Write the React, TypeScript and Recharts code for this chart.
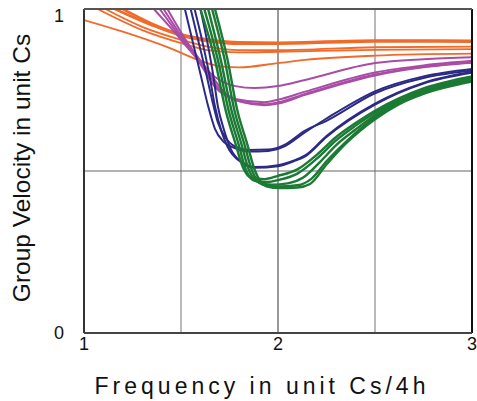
import React from 'react';
import { LineChart, Line, XAxis, YAxis, ReferenceLine } from 'recharts';

// ---- tick labels ----
const xTicks = [1, 2, 3];
const yTicks = [0, 1];
const xTitle = 'Frequency in unit Cs/4h';
const yTitle = 'Group Velocity in unit Cs';

// ---- series: [frequency, group velocity] ----
const orange1 = [[1.2, 1.0], [1.35, 0.955], [1.5, 0.922], [1.65, 0.905], [1.8, 0.897], [2, 0.896], [2.5, 0.903], [3, 0.902]];
const orange2 = [[1.16, 1.0], [1.35, 0.95], [1.5, 0.918], [1.65, 0.9], [1.8, 0.893], [2, 0.893], [2.5, 0.9], [3, 0.899]];
const orange3 = [[1.11, 1.0], [1.3, 0.945], [1.5, 0.905], [1.65, 0.882], [1.8, 0.873], [2, 0.873], [2.5, 0.882], [3, 0.884]];
const orange4 = [[1.07, 1.0], [1.3, 0.935], [1.5, 0.895], [1.65, 0.872], [1.8, 0.866], [2, 0.868], [2.5, 0.874], [3, 0.876]];
const orange5 = [[1, 0.966], [1.2, 0.93], [1.44, 0.88], [1.6, 0.84], [1.7, 0.823], [1.8, 0.82], [2, 0.833], [2.14, 0.843], [2.5, 0.856], [3, 0.862]];

const magenta1 = [[1.36, 1.0], [1.45, 0.94], [1.55, 0.87], [1.675, 0.79], [1.78, 0.762], [1.88, 0.756], [2, 0.762], [2.14, 0.781], [2.5, 0.833], [2.75, 0.845], [3, 0.851]];
const magenta2 = [[1.39, 1.0], [1.5, 0.91], [1.6, 0.83], [1.675, 0.76], [1.78, 0.722], [1.93, 0.712], [2, 0.72], [2.14, 0.745], [2.5, 0.804], [2.75, 0.826], [3, 0.84]];
const magenta3 = [[1.41, 1.0], [1.52, 0.9], [1.62, 0.82], [1.7, 0.75], [1.8, 0.715], [1.93, 0.706], [2, 0.712], [2.14, 0.738], [2.5, 0.798], [2.75, 0.822], [3, 0.836]];
const magenta4 = [[1.43, 1.0], [1.54, 0.89], [1.64, 0.81], [1.72, 0.745], [1.82, 0.712], [1.93, 0.703], [2, 0.708], [2.14, 0.735], [2.5, 0.795], [2.75, 0.82], [3, 0.834]];

const blue1 = [[1.52, 1.0], [1.56, 0.9], [1.6, 0.8], [1.64, 0.7], [1.675, 0.63], [1.72, 0.59], [1.78, 0.57], [1.845, 0.56], [1.95, 0.562], [2.03, 0.575], [2.14, 0.62], [2.25, 0.662], [2.5, 0.746], [2.75, 0.792], [3, 0.815]];
const blue2 = [[1.55, 1.0], [1.59, 0.9], [1.63, 0.8], [1.66, 0.72], [1.69, 0.65], [1.727, 0.605], [1.78, 0.575], [1.845, 0.565], [1.95, 0.566], [2.03, 0.58], [2.14, 0.625], [2.25, 0.655], [2.5, 0.74], [2.75, 0.787], [3, 0.81]];
const blue3 = [[1.57, 1.0], [1.61, 0.9], [1.645, 0.8], [1.675, 0.7], [1.71, 0.62], [1.74, 0.575], [1.81, 0.527], [1.88, 0.51], [2.0, 0.515], [2.08, 0.53], [2.14, 0.545], [2.25, 0.605], [2.5, 0.705], [2.75, 0.77], [3, 0.803]];
const blue4 = [[1.6, 1.0], [1.635, 0.9], [1.665, 0.8], [1.69, 0.7], [1.72, 0.63], [1.755, 0.57], [1.82, 0.525], [1.88, 0.512], [2.0, 0.518], [2.08, 0.532], [2.14, 0.548], [2.25, 0.608], [2.5, 0.708], [2.75, 0.772], [3, 0.806]];

const green1 = [[1.6, 1.0], [1.675, 0.843], [1.73, 0.688], [1.78, 0.586], [1.82, 0.51], [1.86, 0.48], [1.93, 0.475], [2.0, 0.485], [2.1, 0.505], [2.2, 0.55], [2.3, 0.605], [2.4, 0.648], [2.5, 0.686], [2.75, 0.755], [3, 0.792]];
const green2 = [[1.62, 1.0], [1.69, 0.843], [1.745, 0.688], [1.795, 0.586], [1.835, 0.503], [1.88, 0.47], [1.95, 0.466], [2.0, 0.472], [2.1, 0.492], [2.2, 0.538], [2.3, 0.595], [2.4, 0.64], [2.5, 0.68], [2.75, 0.752], [3, 0.789]];
const green3 = [[1.64, 1.0], [1.705, 0.843], [1.76, 0.688], [1.81, 0.586], [1.85, 0.503], [1.9, 0.465], [1.97, 0.458], [2.05, 0.462], [2.13, 0.48], [2.22, 0.53], [2.3, 0.58], [2.4, 0.628], [2.5, 0.672], [2.75, 0.747], [3, 0.785]];
const green4 = [[1.66, 1.0], [1.725, 0.843], [1.775, 0.688], [1.825, 0.586], [1.865, 0.503], [1.92, 0.458], [2.0, 0.452], [2.1, 0.456], [2.17, 0.475], [2.25, 0.53], [2.35, 0.59], [2.5, 0.666], [2.62, 0.71], [2.75, 0.742], [3, 0.78]];
const green5 = [[1.675, 1.0], [1.74, 0.843], [1.79, 0.688], [1.84, 0.586], [1.88, 0.503], [1.94, 0.453], [2.01, 0.447], [2.1, 0.449], [2.165, 0.46], [2.25, 0.52], [2.35, 0.585], [2.5, 0.66], [2.62, 0.705], [2.75, 0.738], [3, 0.776]];

const ORANGE = '#F26A2A';
const MAGENTA = '#A94CA6';
const BLUE = '#2D2A86';
const GREEN = '#1B7A33';

const toRows = (pts: number[][]) => pts.map(([x, y]) => ({ x, y }));

const series = [
  { name: 'orange1', pts: orange1, color: ORANGE, w: 2.6 },
  { name: 'orange2', pts: orange2, color: ORANGE, w: 2.6 },
  { name: 'orange3', pts: orange3, color: ORANGE, w: 1.8 },
  { name: 'orange4', pts: orange4, color: ORANGE, w: 1.8 },
  { name: 'orange5', pts: orange5, color: ORANGE, w: 1.8 },
  { name: 'magenta1', pts: magenta1, color: MAGENTA, w: 2 },
  { name: 'magenta2', pts: magenta2, color: MAGENTA, w: 2 },
  { name: 'magenta3', pts: magenta3, color: MAGENTA, w: 2 },
  { name: 'magenta4', pts: magenta4, color: MAGENTA, w: 2 },
  { name: 'blue1', pts: blue1, color: BLUE, w: 2 },
  { name: 'blue2', pts: blue2, color: BLUE, w: 2 },
  { name: 'blue3', pts: blue3, color: BLUE, w: 2 },
  { name: 'blue4', pts: blue4, color: BLUE, w: 2 },
  { name: 'green1', pts: green1, color: GREEN, w: 2.4 },
  { name: 'green2', pts: green2, color: GREEN, w: 2.4 },
  { name: 'green3', pts: green3, color: GREEN, w: 2.4 },
  { name: 'green4', pts: green4, color: GREEN, w: 2.4 },
  { name: 'green5', pts: green5, color: GREEN, w: 2.4 },
];

const FONT = '"Liberation Sans", Arial, Helvetica, sans-serif';

const YTick = (props: any) => {
  const { x, y, payload } = props;
  const dy = payload.value === 1 ? 13 : 6;
  return (
    <text x={x} y={y + dy} textAnchor="end" fontSize={18} fontFamily={FONT} fill="#111">
      {payload.value}
    </text>
  );
};

const XTick = (props: any) => {
  const { x, y, payload } = props;
  return (
    <text x={x} y={y + 13} textAnchor="middle" fontSize={18} fontFamily={FONT} fill="#111">
      {payload.value}
    </text>
  );
};

export default function App() {
  return (
    <div style={{ position: 'absolute', left: 0, top: 0, width: 477, height: 401, background: '#fff' }}>
      <LineChart width={477} height={401} margin={{ top: 9, right: 5, left: 0, bottom: 0 }}>
        <XAxis
          type="number"
          dataKey="x"
          domain={[1, 3]}
          ticks={xTicks}
          allowDataOverflow
          height={68}
          axisLine={false}
          tickLine={false}
          tickSize={0}
          tickMargin={4}
          tick={<XTick />}
        />
        <YAxis
          type="number"
          dataKey="y"
          domain={[0, 1]}
          ticks={yTicks}
          allowDataOverflow
          width={84}
          axisLine={false}
          tickLine={false}
          tickSize={0}
          tickMargin={20}
          tick={<YTick />}
        />
        <ReferenceLine x={1.5} stroke="#8a8a8a" strokeWidth={1.2} />
        <ReferenceLine x={2} stroke="#555" strokeWidth={1.2} />
        <ReferenceLine x={2.5} stroke="#8a8a8a" strokeWidth={1.2} />
        <ReferenceLine y={0.5} stroke="#666" strokeWidth={1.2} />
        {series.map((s) => (
          <Line
            key={s.name}
            data={toRows(s.pts)}
            dataKey="y"
            type="monotone"
            stroke={s.color}
            strokeWidth={s.w}
            dot={false}
            activeDot={false}
            isAnimationActive={false}
          />
        ))}
        <ReferenceLine x={1} stroke="#333" strokeWidth={2} />
        <ReferenceLine x={3} stroke="#111" strokeWidth={2} />
        <ReferenceLine y={0} stroke="#444" strokeWidth={2} />
        <ReferenceLine y={1} stroke="#555" strokeWidth={2} />
        <text x={262} y={394} textAnchor="middle" fontSize={23} letterSpacing={4} fontFamily={FONT} fill="#111">
          {xTitle}
        </text>
        <text x={30} y={168} transform="rotate(-90, 30, 168)" textAnchor="middle" fontSize={24.5} fontFamily={FONT} fill="#111">
          {yTitle}
        </text>
      </LineChart>
    </div>
  );
}
